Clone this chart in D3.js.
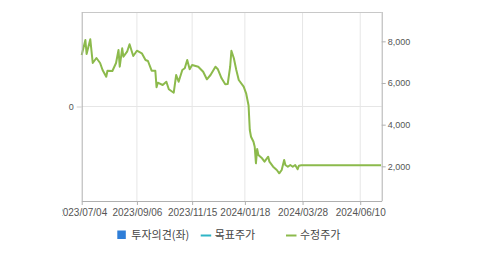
<!DOCTYPE html>
<html>
<head>
<meta charset="utf-8">
<script src="https://cdn.jsdelivr.net/npm/d3@7"></script>
<style>
  html, body { margin: 0; padding: 0; background: #fff; }
  svg { display: block; font-family: "Liberation Sans", Arial, sans-serif; }
</style>
</head>
<body>
<svg id="chart" width="479" height="254"></svg>
<script>
// ---- data (trading-day index along x) ----
const tickIndex  = [0, 45, 90, 133, 180, 227];
const tickLabels = ["2023/07/04", "2023/09/06", "2023/11/15", "2024/01/18", "2024/03/28", "2024/06/10"];
const priceTicks = [2000, 4000, 6000, 8000];
const opinionTicks = [0];

const dayIndex = [0, 3, 4, 7, 9, 12, 15, 17, 20, 21, 25, 28, 30, 31, 33, 34, 37, 39, 42, 45,
  49, 52, 54, 57, 60, 61, 62, 66, 69, 71, 75, 77, 79, 82, 84, 86, 88, 90, 95, 99,
  102, 105, 109, 111, 114, 117, 119, 121, 122, 124, 126, 128, 132, 134, 136, 137, 138, 140, 141, 142,
  143, 144, 147, 149, 152, 153, 156, 159, 161, 163, 165, 166, 168, 170, 172, 174, 176, 177, 179, 244];
const adjPrice = [7344, 8064, 7392, 8098, 6960, 7200, 6960, 6624, 6302, 6590, 6576, 6960, 7584, 6782, 7666, 7262, 7502, 7858, 7296, 7550,
  7426, 7104, 7056, 6590, 6590, 5794, 6014, 5904, 6062, 5698, 5534, 6384, 6062, 6624, 6706, 7104, 6658, 6864, 6782, 6542,
  6178, 6384, 6782, 6658, 6226, 5938, 5952, 6782, 7550, 7186, 6624, 6144, 5822, 5506, 4920, 3744, 3422, 3182, 2942, 2146,
  2832, 2544, 2386, 2222, 2462, 2222, 1982, 1824, 1666, 1824, 2304, 2064, 1982, 2064, 1982, 2064, 1858, 2030, 2050, 2050];

const legendItems = [
  {label: "투자의견(좌)", type: "square", color: "#2f7ed8"},
  {label: "목표주가", type: "line", color: "#2fb5c6"},
  {label: "수정주가", type: "line", color: "#8cba4c"}
];

// ---- layout ----
const L = 81.7, R = 381.7, T = 12, B = 201;
const svg = d3.select("#chart");

const x = d3.scaleLinear().domain([0, 244.5]).range([L, R]);
const yR = d3.scaleLinear().domain([336, 9408]).range([B, T]);
const yL = d3.scaleLinear().domain([-1, 1]).range([B, T]);

// gridlines
svg.append("g").selectAll("line").data(tickIndex.slice(1)).join("line")
  .attr("x1", d => x(d)).attr("x2", d => x(d))
  .attr("y1", T).attr("y2", B)
  .attr("stroke", "#e6e6e6").attr("stroke-width", 1);
svg.append("g").selectAll("line").data(opinionTicks).join("line")
  .attr("x1", L).attr("x2", R)
  .attr("y1", d => yL(d)).attr("y2", d => yL(d))
  .attr("stroke", "#e6e6e6").attr("stroke-width", 1);

// frame top
svg.append("line").attr("x1", L).attr("x2", R).attr("y1", T + 0.5).attr("y2", T + 0.5)
  .attr("stroke", "#c8c8c8");

// line
const line = d3.line().x((d, i) => x(dayIndex[i])).y(d => yR(d)).curve(d3.curveLinear);
svg.append("path").datum(adjPrice)
  .attr("d", line)
  .attr("fill", "none")
  .attr("stroke", "#8cba4c")
  .attr("stroke-width", 2)
  .attr("stroke-linejoin", "round");

// clip for the first date label (absolute coordinates)
svg.append("clipPath").attr("id", "xclip")
  .append("rect").attr("x", 62).attr("y", 190).attr("width", 417).attr("height", 40);

// bottom axis
const xWrap = svg.append("g").attr("clip-path", "url(#xclip)");
const xAxis = xWrap.append("g")
  .attr("transform", `translate(0,${B})`)
  .call(d3.axisBottom(x).tickValues(tickIndex).tickFormat((d, i) => tickLabels[i]).tickSize(4).tickSizeOuter(0).tickPadding(4));
xAxis.select(".domain").attr("stroke", "#b0b0b0");
xAxis.selectAll(".tick line").attr("stroke", "#b0b0b0");
xAxis.selectAll("text").attr("fill", "#555").style("font-size", "10px");

// left axis
const lAxis = svg.append("g")
  .attr("transform", `translate(${L},0)`)
  .call(d3.axisLeft(yL).tickValues(opinionTicks).tickFormat(d3.format("d")).tickSize(5).tickSizeOuter(0).tickPadding(3));
lAxis.select(".domain").attr("stroke", "#b0b0b0");
lAxis.selectAll(".tick line").attr("stroke", "#cfcfcf");
lAxis.selectAll("text").attr("fill", "#555").style("font-size", "9px");

// right axis
const rAxis = svg.append("g")
  .attr("transform", `translate(${R},0)`)
  .call(d3.axisRight(yR).tickValues(priceTicks).tickFormat(d3.format(",")).tickSize(4).tickSizeOuter(0).tickPadding(2));
rAxis.select(".domain").attr("stroke", "#b0b0b0").attr("d", `M0.5,${T}V${B}`);
rAxis.selectAll(".tick line").attr("stroke", "#b0b0b0");
rAxis.selectAll("text").attr("fill", "#555").style("font-size", "9px");

// legend
const legendX = [117.3, 200.7, 286];
const lg = svg.append("g");
legendItems.forEach((it, i) => {
  const g = lg.append("g").attr("transform", `translate(${legendX[i]},235)`);
  if (it.type === "square") {
    g.append("rect").attr("x", 0).attr("y", -4.5).attr("width", 8.5).attr("height", 8.5).attr("fill", it.color);
  } else {
    g.append("line").attr("x1", 0).attr("x2", 10.5).attr("y1", 0.5).attr("y2", 0.5)
      .attr("stroke", it.color).attr("stroke-width", 2);
  }
  g.append("text").attr("x", 14).attr("y", 0).attr("dy", "0.35em")
    .attr("fill", "#444").style("font-size", "11px").style("font-family", "'Noto Sans CJK KR', sans-serif")
    .text(it.label);
});
</script>
</body>
</html>
